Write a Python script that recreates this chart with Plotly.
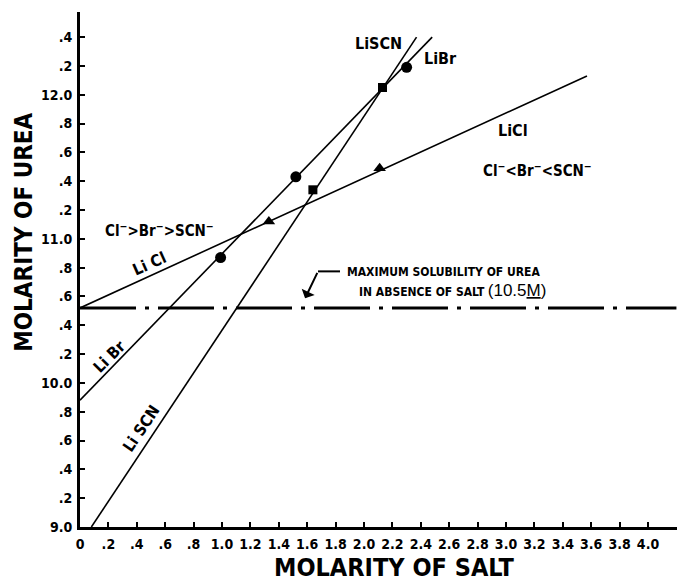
import plotly.graph_objects as go

# ---- data ----
salt_libr = [0.99, 1.52, 2.30]
urea_libr = [10.87, 11.43, 12.19]
salt_liscn = [1.64, 2.13]
urea_liscn = [11.34, 12.05]
salt_licl = [1.33, 2.11]
urea_licl = [11.12, 11.49]

libr_fit_x = [0.0, 2.48]
libr_fit_y = [9.88, 12.40]
liscn_fit_x = [0.08, 2.37]
liscn_fit_y = [9.0, 12.40]
licl_fit_x = [0.0, 3.57]
licl_fit_y = [10.52, 12.13]

solubility_x = [0.0, 4.2]
solubility_y = [10.52, 10.52]

x_tickvals = [round(0.2 * i, 1) for i in range(21)]
x_ticktext = ["0", ".2", ".4", ".6", ".8", "1.0", "1.2", "1.4", "1.6", "1.8", "2.0",
              "2.2", "2.4", "2.6", "2.8", "3.0", "3.2", "3.4", "3.6", "3.8", "4.0"]
y_tickvals = [round(9.0 + 0.2 * i, 1) for i in range(18)]
y_ticktext = ["9.0", ".2", ".4", ".6", ".8", "10.0", ".2", ".4", ".6", ".8",
              "11.0", ".2", ".4", ".6", ".8", "12.0", ".2", ".4"]

NARROW = "DejaVu Sans Condensed, Liberation Sans Narrow, sans-serif"
REG = "Liberation Sans, Arial, sans-serif"

fig = go.Figure()

line_style = dict(color="black", width=1.6)
fig.add_trace(go.Scatter(x=libr_fit_x, y=libr_fit_y, mode="lines", line=line_style, hoverinfo="skip"))
fig.add_trace(go.Scatter(x=liscn_fit_x, y=liscn_fit_y, mode="lines", line=line_style, hoverinfo="skip"))
fig.add_trace(go.Scatter(x=licl_fit_x, y=licl_fit_y, mode="lines", line=line_style, hoverinfo="skip"))
fig.add_trace(go.Scatter(x=solubility_x, y=solubility_y, mode="lines",
                         line=dict(color="black", width=3, dash="56px,9px,4px,9px"), hoverinfo="skip"))

fig.add_trace(go.Scatter(x=salt_libr, y=urea_libr, mode="markers", name="LiBr",
                         marker=dict(symbol="circle", size=11, color="black")))
fig.add_trace(go.Scatter(x=salt_liscn, y=urea_liscn, mode="markers", name="LiSCN",
                         marker=dict(symbol="square", size=9, color="black")))
fig.add_trace(go.Scatter(x=salt_licl, y=urea_licl, mode="markers", name="LiCl",
                         marker=dict(symbol="triangle-up", size=11, color="black")))

def lab(text, x, y, size=16, angle=0, family=NARROW, xanchor="center"):
    fig.add_annotation(x=x, y=y, xref="x", yref="y", text=text, showarrow=False,
                       textangle=angle, xanchor=xanchor, yanchor="middle",
                       font=dict(family=family, size=size, color="black"))

lab("<b>LiSCN</b>", 2.10, 12.357)
lab("<b>LiBr</b>", 2.54, 12.253)
lab("<b>LiCl</b>", 3.05, 11.753)
lab("<b>Cl<sup>−</sup>&lt;Br<sup>−</sup>&lt;SCN<sup>−</sup></b>", 3.225, 11.475, size=15)
lab("<b>Cl<sup>−</sup>&gt;Br<sup>−</sup>&gt;SCN<sup>−</sup></b>", 0.563, 11.059, size=15)
lab("<b>Li Cl</b>", 0.49, 10.83, angle=-24)
lab("<b>Li Br</b>", 0.21, 10.18, angle=-45)
lab("<b>Li SCN</b>", 0.43, 9.685, angle=-56)
lab("<b>MAXIMUM SOLUBILITY OF UREA</b>", 1.866, 10.767, size=12, xanchor="left")
lab("<b>IN ABSENCE OF SALT</b> <span style='font-family:Liberation Sans;font-size:17px'>(10.5<u>M</u>)</span>",
    1.951, 10.643, size=12, xanchor="left")

# arrow pointing to the solubility line
fig.add_annotation(x=1.585, y=10.587, ax=1.676, ay=10.774, xref="x", yref="y",
                   axref="x", ayref="y", text="", showarrow=True, arrowhead=1,
                   arrowsize=1.2, arrowwidth=2, arrowcolor="black")
fig.add_shape(type="line", x0=1.676, y0=10.774, x1=1.831, y1=10.774, xref="x", yref="y",
              line=dict(color="black", width=2))

# axis titles
fig.add_annotation(x=0.526, y=-0.0796, xref="paper", yref="paper", text="<b>MOLARITY OF SALT</b>",
                   showarrow=False, xanchor="center", yanchor="middle",
                   font=dict(family=NARROW, size=25, color="black"))
fig.add_annotation(x=-0.094, y=0.573, xref="paper", yref="paper", text="<b>MOLARITY OF UREA</b>",
                   showarrow=False, xanchor="center", yanchor="middle", textangle=-90,
                   font=dict(family=NARROW, size=24, color="black"))

# the page body adds an 8px margin, so the figure is sized to fit the window
fig.update_layout(
    width=683, height=576,
    margin=dict(l=72, r=14, t=4, b=57, autoexpand=False),
    paper_bgcolor="white", plot_bgcolor="white",
    showlegend=False,
    font=dict(family=NARROW, color="black"),
)
fig.update_xaxes(range=[0, 4.204], tickvals=x_tickvals, ticktext=x_ticktext, automargin=False,
                 showgrid=False, zeroline=False, showline=True, linecolor="black", linewidth=3,
                 ticks="inside", ticklen=5, tickwidth=2, tickcolor="black",
                 tickfont=dict(family=NARROW, size=14, weight="bold"), ticklabelstandoff=2)
fig.update_yaxes(range=[9.0, 12.574], tickvals=y_tickvals, ticktext=y_ticktext, automargin=False,
                 showgrid=False, zeroline=False, showline=True, linecolor="black", linewidth=3,
                 ticks="inside", ticklen=5, tickwidth=2, tickcolor="black",
                 tickfont=dict(family=NARROW, size=14, weight="bold"), ticklabelstandoff=2)

fig.write_html("out.html")
